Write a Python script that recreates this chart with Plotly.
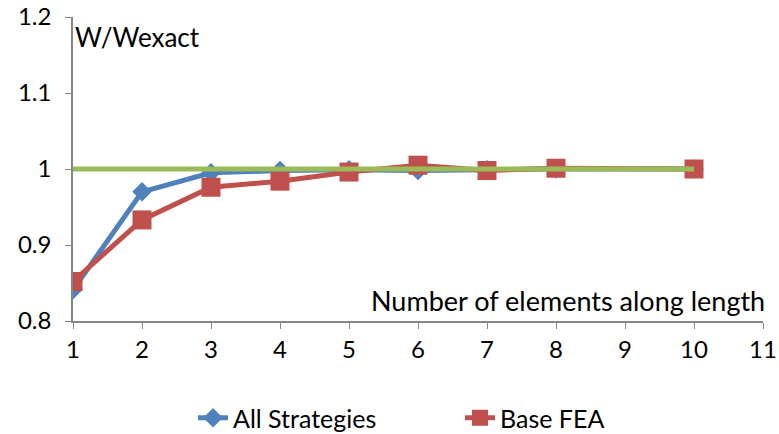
import plotly.graph_objects as go

# Convergence of deflection ratio with mesh refinement
elements = [1, 2, 3, 4, 5, 6, 7, 8, 10]
all_strategies = [0.841, 0.970, 0.995, 0.998, 0.999, 0.998, 0.999, 1.000, 1.000]
base_fea = [0.852, 0.933, 0.976, 0.984, 0.996, 1.005, 0.998, 1.001, 1.000]
exact_x = [1, 10]
exact_y = [1.0, 1.0]

x_ticks = list(range(1, 12))
y_ticks = [0.8, 0.9, 1.0, 1.1, 1.2]
y_tick_text = ["0.8", "0.9", "1", "1.1", "1.2"]

FONT = "Lato, 'Open Sans', sans-serif"

fig = go.Figure()
fig.add_trace(go.Scatter(
    x=elements, y=all_strategies, name="All Strategies",
    mode="lines+markers",
    line=dict(color="#4F81BD", width=5),
    marker=dict(symbol="diamond", size=15, color="#4F81BD"),
))
fig.add_trace(go.Scatter(
    x=elements, y=base_fea, name="Base FEA",
    mode="lines+markers",
    line=dict(color="#C0504D", width=5),
    marker=dict(symbol="square", size=19, color="#C0504D"),
))
fig.add_trace(go.Scatter(
    x=exact_x, y=exact_y, name="Exact",
    mode="lines", showlegend=False,
    line=dict(color="#9BBB59", width=5),
))

axis_common = dict(
    showgrid=False, zeroline=False, automargin=False,
    showline=True, linecolor="#868686", linewidth=1.5,
    ticks="outside", ticklen=6, tickcolor="#868686",
    tickfont=dict(family=FONT, size=24, color="#000000"),
)

fig.update_xaxes(range=[1, 11], tickvals=x_ticks, **axis_common)
fig.update_yaxes(range=[0.8, 1.2], tickvals=y_ticks, ticktext=y_tick_text,
                 ticklabelstandoff=9, **axis_common)

fig.add_annotation(
    text="W/Wexact", xref="paper", yref="paper", x=0.0, y=1.0,
    xanchor="left", yanchor="top", showarrow=False, xshift=0, yshift=-2,
    font=dict(family=FONT, size=26, color="#000000"),
)
fig.add_annotation(
    text="Number of elements along length", xref="paper", yref="paper",
    x=1.0, y=0.0, xanchor="right", yanchor="bottom", showarrow=False,
    xshift=4, yshift=2,
    font=dict(family=FONT, size=27, color="#000000"),
)

fig.update_layout(
    width=779, height=434,
    margin=dict(l=73, r=16, t=17, b=113, autoexpand=False),
    plot_bgcolor="white", paper_bgcolor="white",
    showlegend=True,
    legend=dict(
        orientation="h", xref="container", yref="container",
        x=193 / 779, xanchor="left", y=1 - 418 / 434, yanchor="middle",
        font=dict(family=FONT, size=25, color="#000000"),
        entrywidth=222, entrywidthmode="pixels", tracegroupgap=0,
    ),
)

fig.write_html("out.html")
